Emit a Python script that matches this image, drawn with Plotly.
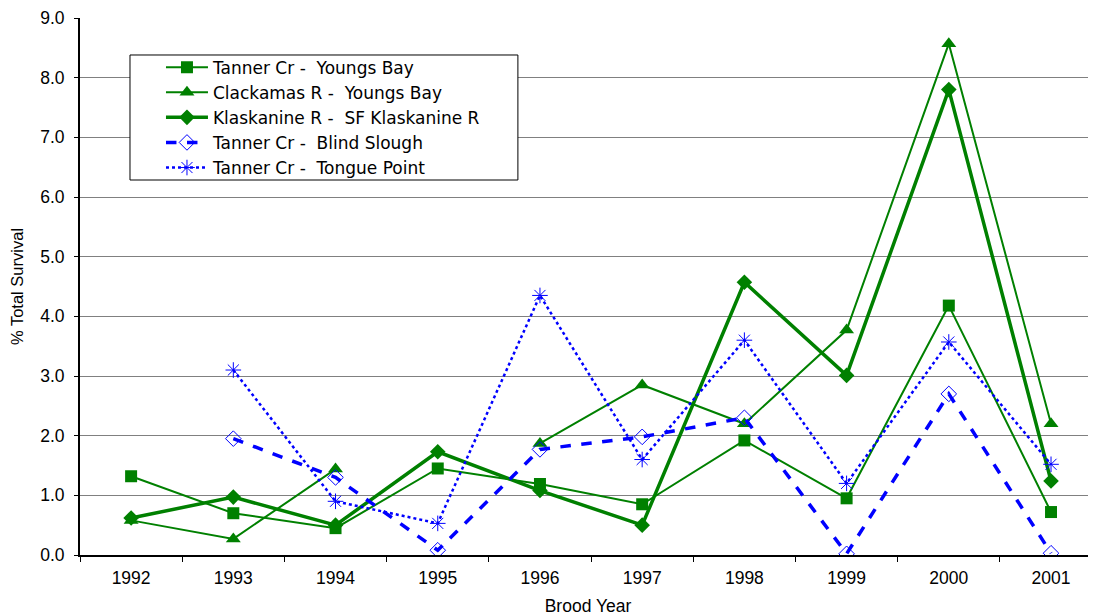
import plotly.graph_objects as go

years = ["1992", "1993", "1994", "1995", "1996", "1997", "1998", "1999", "2000", "2001"]
tanner_youngs = [1.32, 0.70, 0.45, 1.45, 1.19, 0.85, 1.92, 0.95, 4.18, 0.72]
clackamas_youngs = [0.58, 0.27, 1.44, None, 1.87, 2.85, 2.20, 3.77, 8.57, 2.20]
klaskanine_sf = [0.62, 0.97, 0.50, 1.73, 1.08, 0.50, 4.57, 3.01, 7.80, 1.24]
tanner_blind = [None, 1.95, 1.30, 0.08, 1.77, 1.98, 2.30, 0.02, 2.70, 0.03]
tanner_tongue = [None, 3.10, 0.90, 0.53, 4.35, 1.60, 3.60, 1.20, 3.57, 1.52]

names = ["Tanner Cr -\u00a0 Youngs Bay", "Clackamas R -\u00a0 Youngs Bay",
         "Klaskanine R -\u00a0 SF Klaskanine R", "Tanner Cr -\u00a0 Blind Slough",
         "Tanner Cr -\u00a0 Tongue Point"]

GREEN = "#008000"
BLUE = "#0000FF"
FONT = "Liberation Sans, Arial, sans-serif"

fig = go.Figure()
fig.add_trace(go.Scatter(x=years, y=tanner_youngs, name=names[0],
                         mode="lines+markers", line=dict(color=GREEN, width=2),
                         marker=dict(symbol="square", size=12, color=GREEN)))
fig.add_trace(go.Scatter(x=years, y=clackamas_youngs, name=names[1],
                         mode="lines+markers", line=dict(color=GREEN, width=2),
                         marker=dict(symbol="triangle-up", size=13, color=GREEN)))
fig.add_trace(go.Scatter(x=years, y=klaskanine_sf, name=names[2],
                         mode="lines+markers", line=dict(color=GREEN, width=3.5),
                         marker=dict(symbol="diamond", size=12, color=GREEN)))
fig.add_trace(go.Scatter(x=years, y=tanner_blind, name=names[3],
                         mode="lines+markers", line=dict(color=BLUE, width=3.5, dash="dash"),
                         marker=dict(symbol="diamond-open", size=12, color=BLUE, line=dict(width=1))))
fig.add_trace(go.Scatter(x=years, y=tanner_tongue, name=names[4],
                         mode="lines+markers", line=dict(color=BLUE, width=2.5, dash="dot"),
                         marker=dict(symbol="asterisk-open", size=13, color=BLUE,
                                     line=dict(width=1, color=BLUE))))

# legend frame (white box with black border)
fig.add_shape(type="rect", xref="paper", yref="paper",
              x0=0.0492, x1=0.431, y0=0.6983, y1=0.9311,
              line=dict(color="black", width=1), fillcolor="white", layer="above")

# page body adds an 8px offset; figure is sized so the plot lands where the reference has it
fig.update_layout(
    width=1088, height=608,
    margin=dict(l=72, r=0, t=10, b=61),
    paper_bgcolor="white", plot_bgcolor="white",
    font=dict(family=FONT, color="black", size=17),
    showlegend=True,
    legend=dict(x=0.0797, y=0.9412, xanchor="left", yanchor="top",
                bgcolor="rgba(0,0,0,0)", borderwidth=0,
                font=dict(size=17, family="DejaVu Sans, sans-serif"),
                tracegroupgap=0, itemwidth=42),
)
fig.update_xaxes(type="category", range=[-0.5, 9.44], tickson="boundaries",
                 ticks="outside", ticklen=5, tickcolor="black", showline=True,
                 linecolor="black", linewidth=2, showgrid=False, automargin=False,
                 ticklabelstandoff=6, ticklabeloverflow="allow",
                 title=dict(text="Brood Year", font=dict(size=17.5), standoff=14),
                 tickfont=dict(size=17.5))
fig.update_yaxes(range=[0, 9], dtick=1, tickformat=".1f", ticks="outside", ticklen=4,
                 tickcolor="black", showline=True, linecolor="black", linewidth=2,
                 showgrid=True, gridcolor="#808080", gridwidth=1, zeroline=False,
                 automargin=False, ticklabelstandoff=6, ticklabeloverflow="allow",
                 title=dict(text="% Total Survival", font=dict(size=16.5), standoff=12),
                 tickfont=dict(size=17.5))

fig.write_html("out.html")
